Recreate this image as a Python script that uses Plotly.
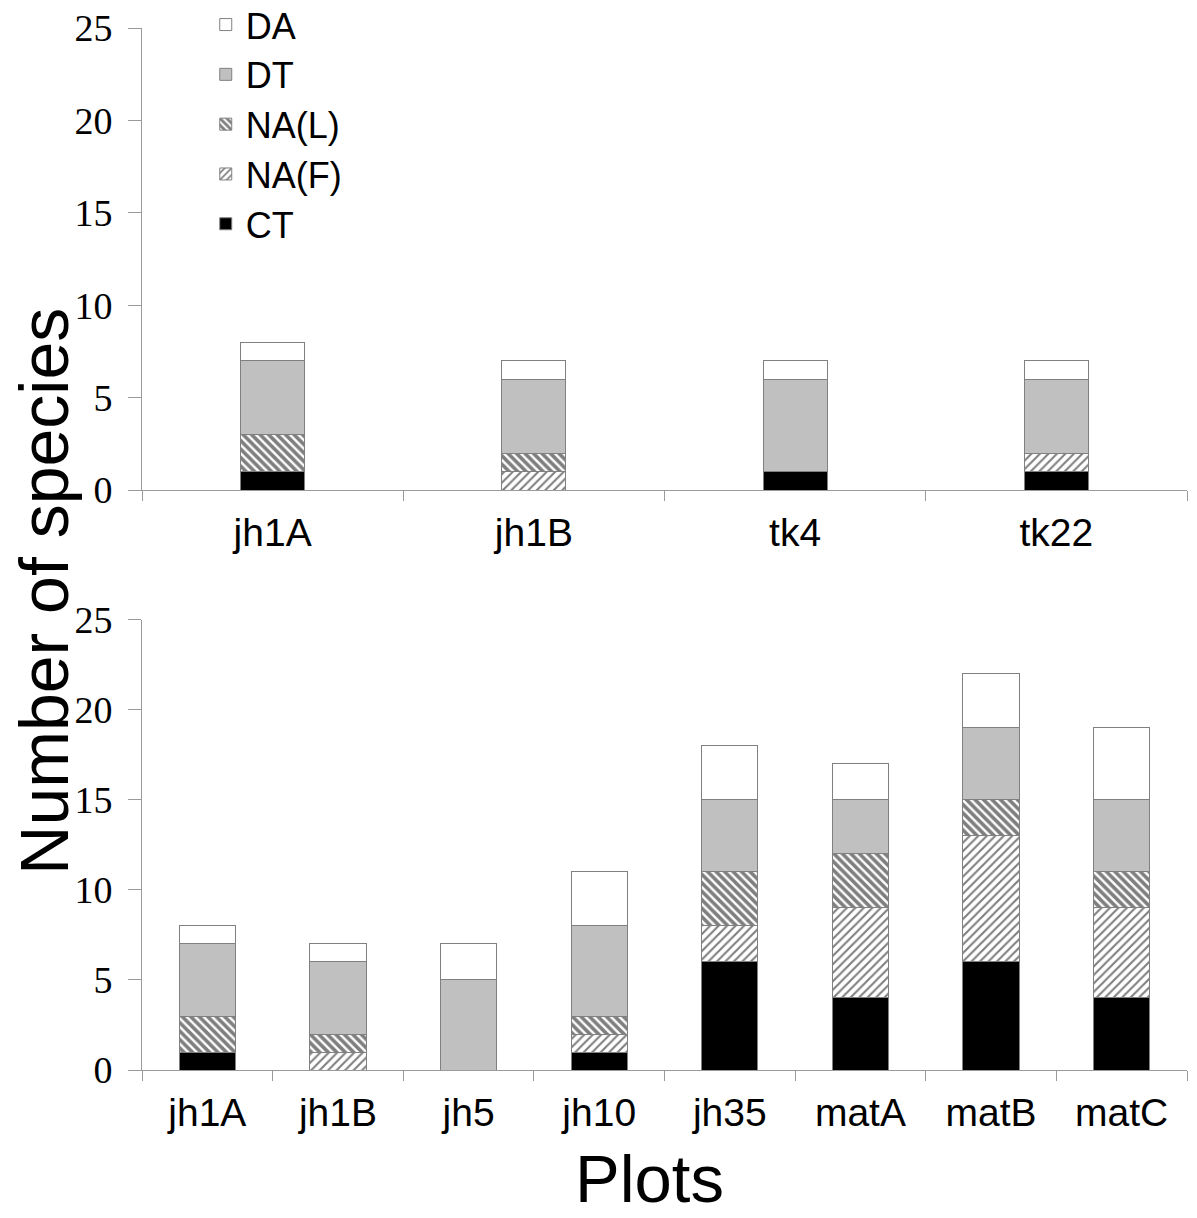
import plotly.graph_objects as go

# ---- data ----
top_plots = ["jh1A", "jh1B", "tk4", "tk22"]
top_CT = [1, 0, 1, 1]
top_NAF = [0, 1, 0, 1]
top_NAL = [2, 1, 0, 0]
top_DT = [4, 4, 5, 4]
top_DA = [1, 1, 1, 1]

bot_plots = ["jh1A", "jh1B", "jh5", "jh10", "jh35", "matA", "matB", "matC"]
bot_CT = [1, 0, 0, 1, 6, 4, 6, 4]
bot_NAF = [0, 1, 0, 1, 2, 5, 7, 5]
bot_NAL = [2, 1, 0, 1, 3, 3, 2, 2]
bot_DT = [4, 4, 5, 5, 4, 3, 4, 4]
bot_DA = [1, 1, 2, 3, 3, 2, 3, 4]

y_ticks = [0, 5, 10, 15, 20, 25]
series_names = ["CT", "NA(F)", "NA(L)", "DT", "DA"]

# ---- styles ----
SANS = "Liberation Sans, Arial, sans-serif"
SERIF = "Liberation Serif, Times New Roman, serif"
GRID = "#9a9a9a"
styles = {
    "CT": dict(color="black"),
    "NA(F)": dict(color="white", pattern=dict(shape="/", fgcolor="black", bgcolor="white", size=6, solidity=0.35)),
    "NA(L)": dict(color="white", pattern=dict(shape="\\", fgcolor="black", bgcolor="white", size=6, solidity=0.6)),
    "DT": dict(color="#c0c0c0"),
    "DA": dict(color="white"),
}

fig = go.Figure()

top_data = [top_CT, top_NAF, top_NAL, top_DT, top_DA]
bot_data = [bot_CT, bot_NAF, bot_NAL, bot_DT, bot_DA]

for name, vals in zip(series_names, top_data):
    m = dict(styles[name])
    m["line"] = dict(color="#808080", width=1)
    fig.add_trace(go.Bar(x=top_plots, y=vals, name=name, marker=m, width=0.245,
                         xaxis="x", yaxis="y", showlegend=True))
for name, vals in zip(series_names, bot_data):
    m = dict(styles[name])
    m["line"] = dict(color="#808080", width=1)
    fig.add_trace(go.Bar(x=bot_plots, y=vals, name=name, marker=m, width=0.43,
                         xaxis="x2", yaxis="y2", showlegend=False))

xax = dict(type="category", showline=True, linecolor=GRID, linewidth=1, ticks="outside",
           tickson="boundaries", ticklen=10, tickcolor=GRID, showgrid=False, zeroline=False,
           ticklabelstandoff=8, automargin=False,
           tickfont=dict(family=SANS, size=39, color="black"))
yax = dict(range=[0, 25], tickvals=y_ticks, showline=True, linecolor=GRID, linewidth=1,
           ticks="outside", ticklen=13, tickcolor=GRID, showgrid=False, zeroline=False,
           ticklabelstandoff=8, automargin=False, ticklabeloverflow="allow",
           tickfont=dict(family=SERIF, size=38, color="black"))

fig.update_layout(
    width=1197, height=1218,
    margin=dict(l=134, r=18, t=20, b=156, autoexpand=False),
    paper_bgcolor="white", plot_bgcolor="white",
    barmode="stack",
    xaxis=dict(xax, domain=[0, 1], anchor="y"),
    yaxis=dict(yax, domain=[0.5566, 1], anchor="x"),
    xaxis2=dict(xax, domain=[0, 1], anchor="y2"),
    yaxis2=dict(yax, domain=[0, 0.4319], anchor="x2"),
    legend=dict(x=0.061, y=1.032, xref="paper", yref="paper", xanchor="left", yanchor="top",
                traceorder="reversed", bgcolor="rgba(0,0,0,0)",
                font=dict(family=SANS, size=36, color="black")),
    annotations=[
        dict(text="Number of species", xref="paper", yref="paper", x=-0.0938, y=0.46,
             textangle=-90, showarrow=False, font=dict(family=SANS, size=68, color="black"),
             xanchor="center", yanchor="middle"),
        dict(text="Plots", xref="paper", yref="paper", x=0.486, y=-0.1037,
             showarrow=False, font=dict(family=SANS, size=67, color="black"),
             xanchor="center", yanchor="middle"),
    ],
)

fig.write_html("out.html")
